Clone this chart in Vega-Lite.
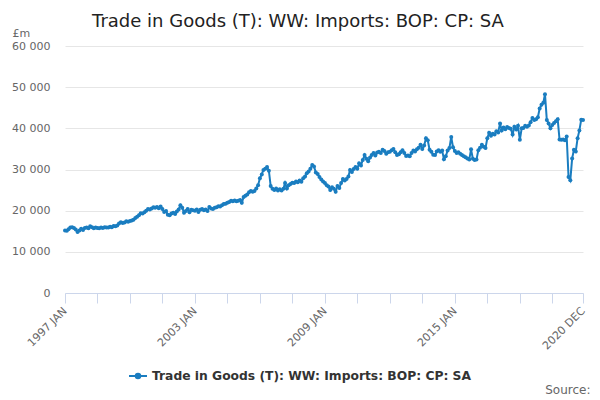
{
  "$schema": "https://vega.github.io/schema/vega-lite/v6.json",
  "autosize": {"type": "none"},
  "padding": {"left": 65, "top": 46, "right": 17, "bottom": 107},
  "width": 518,
  "height": 247,
  "background": "white",
  "config": {"view": {"stroke": null}, "font": "DejaVu Sans"},
  "title": {"text": "Trade in Goods (T): WW: Imports: BOP: CP: SA", "font": "DejaVu Sans", "fontSize": 18, "fontWeight": "normal", "color": "#222222", "anchor": "middle", "dx": -26, "offset": -4},
  "data": {"values": [
    {"date": "1997-01-01", "value": 15200}, {"date": "1997-02-01", "value": 15100}, {"date": "1997-03-01", "value": 15500}, {"date": "1997-04-01", "value": 15900}, {"date": "1997-05-01", "value": 16000}, {"date": "1997-06-01", "value": 15800}, {"date": "1997-07-01", "value": 15400}, {"date": "1997-08-01", "value": 14800}, {"date": "1997-09-01", "value": 15200}, {"date": "1997-10-01", "value": 15600}, {"date": "1997-11-01", "value": 15300}, {"date": "1997-12-01", "value": 15800},
    {"date": "1998-01-01", "value": 15900}, {"date": "1998-02-01", "value": 15700}, {"date": "1998-03-01", "value": 16200}, {"date": "1998-04-01", "value": 16000}, {"date": "1998-05-01", "value": 15700}, {"date": "1998-06-01", "value": 15900}, {"date": "1998-07-01", "value": 15800}, {"date": "1998-08-01", "value": 15700}, {"date": "1998-09-01", "value": 15900}, {"date": "1998-10-01", "value": 15800}, {"date": "1998-11-01", "value": 16000}, {"date": "1998-12-01", "value": 15900},
    {"date": "1999-01-01", "value": 15900}, {"date": "1999-02-01", "value": 16100}, {"date": "1999-03-01", "value": 16000}, {"date": "1999-04-01", "value": 16300}, {"date": "1999-05-01", "value": 16200}, {"date": "1999-06-01", "value": 16400}, {"date": "1999-07-01", "value": 16900}, {"date": "1999-08-01", "value": 17200}, {"date": "1999-09-01", "value": 17000}, {"date": "1999-10-01", "value": 17100}, {"date": "1999-11-01", "value": 17400}, {"date": "1999-12-01", "value": 17300},
    {"date": "2000-01-01", "value": 17500}, {"date": "2000-02-01", "value": 17600}, {"date": "2000-03-01", "value": 17800}, {"date": "2000-04-01", "value": 18200}, {"date": "2000-05-01", "value": 18500}, {"date": "2000-06-01", "value": 18900}, {"date": "2000-07-01", "value": 19400}, {"date": "2000-08-01", "value": 19300}, {"date": "2000-09-01", "value": 19600}, {"date": "2000-10-01", "value": 20000}, {"date": "2000-11-01", "value": 20400}, {"date": "2000-12-01", "value": 20300},
    {"date": "2001-01-01", "value": 20500}, {"date": "2001-02-01", "value": 20800}, {"date": "2001-03-01", "value": 20700}, {"date": "2001-04-01", "value": 20900}, {"date": "2001-05-01", "value": 20600}, {"date": "2001-06-01", "value": 21000}, {"date": "2001-07-01", "value": 20400}, {"date": "2001-08-01", "value": 19700}, {"date": "2001-09-01", "value": 19900}, {"date": "2001-10-01", "value": 19000}, {"date": "2001-11-01", "value": 18900}, {"date": "2001-12-01", "value": 19300},
    {"date": "2002-01-01", "value": 19500}, {"date": "2002-02-01", "value": 19200}, {"date": "2002-03-01", "value": 19800}, {"date": "2002-04-01", "value": 20300}, {"date": "2002-05-01", "value": 21300}, {"date": "2002-06-01", "value": 20700}, {"date": "2002-07-01", "value": 19500}, {"date": "2002-08-01", "value": 19900}, {"date": "2002-09-01", "value": 20400}, {"date": "2002-10-01", "value": 19600}, {"date": "2002-11-01", "value": 20200}, {"date": "2002-12-01", "value": 20100},
    {"date": "2003-01-01", "value": 20000}, {"date": "2003-02-01", "value": 20300}, {"date": "2003-03-01", "value": 19700}, {"date": "2003-04-01", "value": 20200}, {"date": "2003-05-01", "value": 20400}, {"date": "2003-06-01", "value": 20100}, {"date": "2003-07-01", "value": 20300}, {"date": "2003-08-01", "value": 19900}, {"date": "2003-09-01", "value": 20900}, {"date": "2003-10-01", "value": 20500}, {"date": "2003-11-01", "value": 20400}, {"date": "2003-12-01", "value": 20700},
    {"date": "2004-01-01", "value": 20800}, {"date": "2004-02-01", "value": 21100}, {"date": "2004-03-01", "value": 21000}, {"date": "2004-04-01", "value": 21300}, {"date": "2004-05-01", "value": 21600}, {"date": "2004-06-01", "value": 21700}, {"date": "2004-07-01", "value": 21900}, {"date": "2004-08-01", "value": 22100}, {"date": "2004-09-01", "value": 22400}, {"date": "2004-10-01", "value": 22300}, {"date": "2004-11-01", "value": 22500}, {"date": "2004-12-01", "value": 22300},
    {"date": "2005-01-01", "value": 22400}, {"date": "2005-02-01", "value": 22600}, {"date": "2005-03-01", "value": 21900}, {"date": "2005-04-01", "value": 23300}, {"date": "2005-05-01", "value": 23600}, {"date": "2005-06-01", "value": 23900}, {"date": "2005-07-01", "value": 24500}, {"date": "2005-08-01", "value": 24800}, {"date": "2005-09-01", "value": 24600}, {"date": "2005-10-01", "value": 24800}, {"date": "2005-11-01", "value": 25400}, {"date": "2005-12-01", "value": 26200},
    {"date": "2006-01-01", "value": 27900}, {"date": "2006-02-01", "value": 28800}, {"date": "2006-03-01", "value": 29900}, {"date": "2006-04-01", "value": 30200}, {"date": "2006-05-01", "value": 30600}, {"date": "2006-06-01", "value": 29700}, {"date": "2006-07-01", "value": 26000}, {"date": "2006-08-01", "value": 25300}, {"date": "2006-09-01", "value": 25000}, {"date": "2006-10-01", "value": 25400}, {"date": "2006-11-01", "value": 24900}, {"date": "2006-12-01", "value": 25200},
    {"date": "2007-01-01", "value": 24900}, {"date": "2007-02-01", "value": 25300}, {"date": "2007-03-01", "value": 26700}, {"date": "2007-04-01", "value": 25400}, {"date": "2007-05-01", "value": 26200}, {"date": "2007-06-01", "value": 26500}, {"date": "2007-07-01", "value": 26800}, {"date": "2007-08-01", "value": 26700}, {"date": "2007-09-01", "value": 27100}, {"date": "2007-10-01", "value": 26900}, {"date": "2007-11-01", "value": 27300}, {"date": "2007-12-01", "value": 27000},
    {"date": "2008-01-01", "value": 27900}, {"date": "2008-02-01", "value": 28300}, {"date": "2008-03-01", "value": 29100}, {"date": "2008-04-01", "value": 29500}, {"date": "2008-05-01", "value": 30200}, {"date": "2008-06-01", "value": 31100}, {"date": "2008-07-01", "value": 30700}, {"date": "2008-08-01", "value": 29300}, {"date": "2008-09-01", "value": 28900}, {"date": "2008-10-01", "value": 28200}, {"date": "2008-11-01", "value": 27600}, {"date": "2008-12-01", "value": 27100},
    {"date": "2009-01-01", "value": 26700}, {"date": "2009-02-01", "value": 26200}, {"date": "2009-03-01", "value": 25900}, {"date": "2009-04-01", "value": 25000}, {"date": "2009-05-01", "value": 25700}, {"date": "2009-06-01", "value": 25300}, {"date": "2009-07-01", "value": 24600}, {"date": "2009-08-01", "value": 26000}, {"date": "2009-09-01", "value": 25500}, {"date": "2009-10-01", "value": 26700}, {"date": "2009-11-01", "value": 27700}, {"date": "2009-12-01", "value": 27300},
    {"date": "2010-01-01", "value": 27700}, {"date": "2010-02-01", "value": 28300}, {"date": "2010-03-01", "value": 29900}, {"date": "2010-04-01", "value": 29400}, {"date": "2010-05-01", "value": 30100}, {"date": "2010-06-01", "value": 30600}, {"date": "2010-07-01", "value": 30200}, {"date": "2010-08-01", "value": 31500}, {"date": "2010-09-01", "value": 31000}, {"date": "2010-10-01", "value": 32300}, {"date": "2010-11-01", "value": 33500}, {"date": "2010-12-01", "value": 32600},
    {"date": "2011-01-01", "value": 32000}, {"date": "2011-02-01", "value": 32900}, {"date": "2011-03-01", "value": 33500}, {"date": "2011-04-01", "value": 34000}, {"date": "2011-05-01", "value": 33400}, {"date": "2011-06-01", "value": 34100}, {"date": "2011-07-01", "value": 34300}, {"date": "2011-08-01", "value": 34000}, {"date": "2011-09-01", "value": 34800}, {"date": "2011-10-01", "value": 34500}, {"date": "2011-11-01", "value": 33800}, {"date": "2011-12-01", "value": 34200},
    {"date": "2012-01-01", "value": 34300}, {"date": "2012-02-01", "value": 34700}, {"date": "2012-03-01", "value": 35000}, {"date": "2012-04-01", "value": 34200}, {"date": "2012-05-01", "value": 33500}, {"date": "2012-06-01", "value": 33700}, {"date": "2012-07-01", "value": 34200}, {"date": "2012-08-01", "value": 34700}, {"date": "2012-09-01", "value": 34000}, {"date": "2012-10-01", "value": 33300}, {"date": "2012-11-01", "value": 33400}, {"date": "2012-12-01", "value": 33200},
    {"date": "2013-01-01", "value": 34000}, {"date": "2013-02-01", "value": 34600}, {"date": "2013-03-01", "value": 34400}, {"date": "2013-04-01", "value": 34900}, {"date": "2013-05-01", "value": 35300}, {"date": "2013-06-01", "value": 36000}, {"date": "2013-07-01", "value": 35000}, {"date": "2013-08-01", "value": 35800}, {"date": "2013-09-01", "value": 37600}, {"date": "2013-10-01", "value": 37100}, {"date": "2013-11-01", "value": 34800}, {"date": "2013-12-01", "value": 34300},
    {"date": "2014-01-01", "value": 33600}, {"date": "2014-02-01", "value": 33500}, {"date": "2014-03-01", "value": 34400}, {"date": "2014-04-01", "value": 34700}, {"date": "2014-05-01", "value": 34300}, {"date": "2014-06-01", "value": 34600}, {"date": "2014-07-01", "value": 32500}, {"date": "2014-08-01", "value": 33200}, {"date": "2014-09-01", "value": 34600}, {"date": "2014-10-01", "value": 35200}, {"date": "2014-11-01", "value": 37900}, {"date": "2014-12-01", "value": 35400},
    {"date": "2015-01-01", "value": 34500}, {"date": "2015-02-01", "value": 34000}, {"date": "2015-03-01", "value": 34200}, {"date": "2015-04-01", "value": 33800}, {"date": "2015-05-01", "value": 33500}, {"date": "2015-06-01", "value": 33200}, {"date": "2015-07-01", "value": 33000}, {"date": "2015-08-01", "value": 32700}, {"date": "2015-09-01", "value": 32400}, {"date": "2015-10-01", "value": 34900}, {"date": "2015-11-01", "value": 32600}, {"date": "2015-12-01", "value": 32300},
    {"date": "2016-01-01", "value": 32400}, {"date": "2016-02-01", "value": 34700}, {"date": "2016-03-01", "value": 35300}, {"date": "2016-04-01", "value": 36000}, {"date": "2016-05-01", "value": 35500}, {"date": "2016-06-01", "value": 35200}, {"date": "2016-07-01", "value": 37600}, {"date": "2016-08-01", "value": 38900}, {"date": "2016-09-01", "value": 38200}, {"date": "2016-10-01", "value": 38700}, {"date": "2016-11-01", "value": 38500}, {"date": "2016-12-01", "value": 39300},
    {"date": "2017-01-01", "value": 39000}, {"date": "2017-02-01", "value": 41200}, {"date": "2017-03-01", "value": 39500}, {"date": "2017-04-01", "value": 40200}, {"date": "2017-05-01", "value": 39800}, {"date": "2017-06-01", "value": 40300}, {"date": "2017-07-01", "value": 40100}, {"date": "2017-08-01", "value": 39900}, {"date": "2017-09-01", "value": 38500}, {"date": "2017-10-01", "value": 40400}, {"date": "2017-11-01", "value": 39700}, {"date": "2017-12-01", "value": 40600},
    {"date": "2018-01-01", "value": 37200}, {"date": "2018-02-01", "value": 40000}, {"date": "2018-03-01", "value": 40100}, {"date": "2018-04-01", "value": 40600}, {"date": "2018-05-01", "value": 40400}, {"date": "2018-06-01", "value": 40700}, {"date": "2018-07-01", "value": 41500}, {"date": "2018-08-01", "value": 42500}, {"date": "2018-09-01", "value": 42000}, {"date": "2018-10-01", "value": 42200}, {"date": "2018-11-01", "value": 42700}, {"date": "2018-12-01", "value": 44800},
    {"date": "2019-01-01", "value": 45700}, {"date": "2019-02-01", "value": 46200}, {"date": "2019-03-01", "value": 48300}, {"date": "2019-04-01", "value": 42000}, {"date": "2019-05-01", "value": 41200}, {"date": "2019-06-01", "value": 40000}, {"date": "2019-07-01", "value": 40800}, {"date": "2019-08-01", "value": 41300}, {"date": "2019-09-01", "value": 41700}, {"date": "2019-10-01", "value": 42200}, {"date": "2019-11-01", "value": 37300}, {"date": "2019-12-01", "value": 37200},
    {"date": "2020-01-01", "value": 37300}, {"date": "2020-02-01", "value": 37100}, {"date": "2020-03-01", "value": 38000}, {"date": "2020-04-01", "value": 28200}, {"date": "2020-05-01", "value": 27400}, {"date": "2020-06-01", "value": 32700}, {"date": "2020-07-01", "value": 34800}, {"date": "2020-08-01", "value": 34400}, {"date": "2020-09-01", "value": 37600}, {"date": "2020-10-01", "value": 39500}, {"date": "2020-11-01", "value": 42100}, {"date": "2020-12-01", "value": 42000}
  ]},
  "mark": {"type": "line", "strokeWidth": 2, "point": {"filled": true, "size": 16}},
  "encoding": {
    "x": {
      "field": "date", "type": "temporal",
      "scale": {"type": "utc", "domain": [{"year": 1997, "month": 1, "date": 1, "utc": true}, {"year": 2020, "month": 12, "date": 1, "utc": true}], "nice": false},
      "axis": {
        "values": [
          {"year": 1997, "month": 1, "utc": true}, {"year": 1998, "month": 7, "utc": true}, {"year": 2000, "month": 1, "utc": true}, {"year": 2001, "month": 7, "utc": true},
          {"year": 2003, "month": 1, "utc": true}, {"year": 2004, "month": 7, "utc": true}, {"year": 2006, "month": 1, "utc": true}, {"year": 2007, "month": 7, "utc": true},
          {"year": 2009, "month": 1, "utc": true}, {"year": 2010, "month": 7, "utc": true}, {"year": 2012, "month": 1, "utc": true}, {"year": 2013, "month": 7, "utc": true},
          {"year": 2015, "month": 1, "utc": true}, {"year": 2016, "month": 7, "utc": true}, {"year": 2018, "month": 1, "utc": true}, {"year": 2019, "month": 7, "utc": true},
          {"year": 2020, "month": 12, "utc": true}
        ],
        "labelExpr": "(utcFormat(datum.value, '%m') == '01' && indexof(['1997','2003','2009','2015'], utcFormat(datum.value, '%Y')) >= 0) || utcFormat(datum.value, '%Y-%m') == '2020-12' ? upper(utcFormat(datum.value, '%Y %b')) : ''",
        "labelAngle": -45, "labelAlign": "right", "labelBaseline": "middle", "labelPadding": 6,
        "labelFontSize": 11, "labelColor": "#666666", "labelFont": "DejaVu Sans",
        "labelOverlap": false, "labelFlush": false, "labelBound": false,
        "grid": false, "domainColor": "#ccd6eb", "tickColor": "#ccd6eb", "tickSize": 10, "tickWidth": 1, "domainWidth": 1,
        "title": "Source:", "titleFont": "DejaVu Sans", "titleFontSize": 12, "titleFontWeight": "normal", "titleColor": "#666666",
        "titleAnchor": "end", "titleAlign": "right", "titleX": 525, "titleY": 96, "titleBaseline": "middle"
      }
    },
    "y": {
      "field": "value", "type": "quantitative",
      "scale": {"domain": [0, 60000], "nice": false},
      "axis": {
        "values": [0, 10000, 20000, 30000, 40000, 50000, 60000],
        "labelExpr": "replace(format(datum.value, ','), ',', ' ')",
        "labelFontSize": 11, "labelColor": "#666666", "labelFont": "DejaVu Sans", "labelPadding": 15,
        "domain": false, "ticks": false, "gridColor": "#e6e6e6", "gridWidth": 1,
        "title": "£m", "titleAngle": 0, "titleX": -53, "titleY": -13, "titleAlign": "left", "titleBaseline": "middle",
        "titleFont": "DejaVu Sans", "titleFontSize": 11, "titleFontWeight": "normal", "titleColor": "#666666"
      }
    },
    "color": {
      "datum": "Trade in Goods (T): WW: Imports: BOP: CP: SA",
      "type": "nominal",
      "scale": {"range": ["#1a7dc0"]},
      "legend": {
        "title": null, "orient": "none", "legendX": 63, "legendY": 320,
        "symbolType": "M-1,0L1,0M-0.25,0A0.25,0.25 0 1,0 0.25,0A0.25,0.25 0 1,0 -0.25,0",
        "symbolSize": 324, "symbolStrokeWidth": 2, "symbolStrokeColor": "#1a7dc0", "symbolFillColor": "#1a7dc0",
        "labelFont": "DejaVu Sans", "labelFontSize": 12.3, "labelFontWeight": "bold", "labelColor": "#333333", "labelOffset": 4, "labelLimit": 500
      }
    }
  }
}
